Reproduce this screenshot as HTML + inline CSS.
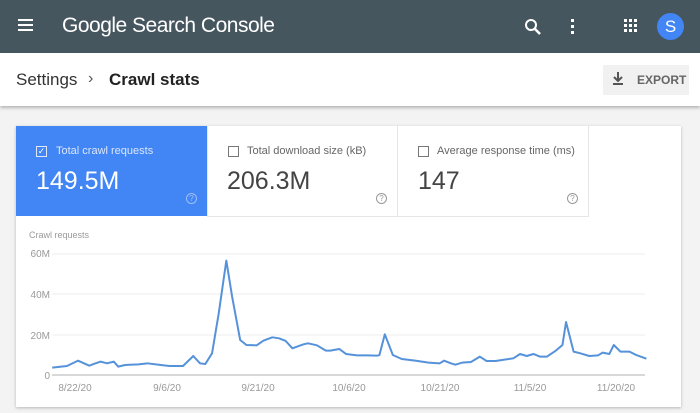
<!DOCTYPE html>
<html><head><style>
body{margin:0;width:700px;height:413px;overflow:hidden;background:#f3f3f3;font-family:"Liberation Sans",sans-serif;position:relative}
.a{position:absolute}
.q{font-size:8px;text-align:center;line-height:9px}
</style></head><body>
<div class="a" style="left:0;top:0;width:700px;height:53px;background:#46565f"></div>
<div class="a" style="left:18px;top:19px;width:15px;height:2px;background:#fff;box-shadow:0 5px 0 #fff,0 10px 0 #fff"></div>
<div class="a" style="left:62px;top:14px;color:#fff;font-size:21px;letter-spacing:-0.5px">Google Search Console</div>
<svg class="a" style="left:524px;top:18px" width="18" height="18"><circle cx="7" cy="7" r="5" stroke="#fff" stroke-width="2" fill="none"/><line x1="11" y1="11" x2="16" y2="16" stroke="#fff" stroke-width="2.5"/></svg>
<div class="a" style="left:571px;top:19px;width:3px;height:3px;background:#fff;box-shadow:0 6px 0 #fff,0 12px 0 #fff"></div>
<svg class="a" style="left:624px;top:19px" width="14" height="14" fill="#fff"><rect x="0" y="0" width="3" height="3"/><rect x="5" y="0" width="3" height="3"/><rect x="10" y="0" width="3" height="3"/><rect x="0" y="5" width="3" height="3"/><rect x="5" y="5" width="3" height="3"/><rect x="10" y="5" width="3" height="3"/><rect x="0" y="10" width="3" height="3"/><rect x="5" y="10" width="3" height="3"/><rect x="10" y="10" width="3" height="3"/></svg>
<div class="a" style="left:657px;top:13px;width:27px;height:27px;border-radius:50%;background:#4285f4;color:#fff;font-size:17px;text-align:center;line-height:27px">S</div>
<div class="a" style="left:0;top:53px;width:700px;height:53px;background:#fff;box-shadow:0 2px 3px rgba(0,0,0,0.25)"></div>
<div class="a" style="left:16px;top:70px;font-size:17px;color:#333">Settings</div>
<div class="a" style="left:88px;top:70px;font-size:16px;color:#555">›</div>
<div class="a" style="left:109px;top:70px;font-size:17px;color:#222;font-weight:bold">Crawl stats</div>
<div class="a" style="left:603px;top:65px;width:86px;height:30px;background:#f1f1f1"></div>
<svg class="a" style="left:612px;top:72px" width="12" height="14"><path d="M6 0v8M2 5l4 4 4-4" stroke="#555" stroke-width="2" fill="none"/><rect x="1" y="11" width="10" height="2" fill="#555"/></svg>
<div class="a" style="left:637px;top:73px;font-size:12px;color:#666;font-weight:bold">EXPORT</div>
<div class="a" style="left:16px;top:126px;width:665px;height:281px;background:#fff;box-shadow:0 1px 3px rgba(0,0,0,0.25)"></div>
<div class="a" style="left:16px;top:126px;width:191px;height:90px;background:#4285f4"></div>
<div class="a" style="left:207px;top:126px;width:1px;height:90px;background:#e6e6e6"></div>
<div class="a" style="left:397px;top:126px;width:1px;height:90px;background:#e6e6e6"></div>
<div class="a" style="left:588px;top:126px;width:1px;height:90px;background:#e6e6e6"></div>
<div class="a" style="left:207px;top:216px;width:382px;height:1px;background:#e6e6e6"></div>
<div class="a" style="left:36px;top:146px;width:9px;height:9px;border:1px solid #dfe8fb;color:#fff;font-size:9px;line-height:9px;text-align:center">✓</div>
<div class="a" style="left:56px;top:145px;font-size:11px;color:#dbe6fc">Total crawl requests</div>
<div class="a" style="left:36px;top:167px;font-size:25px;color:#fff">149.5M</div>
<div class="a q" style="left:186px;top:193px;width:9px;height:9px;border:1px solid #9fc0f8;border-radius:50%;color:#9fc0f8">?</div>
<div class="a" style="left:228px;top:146px;width:9px;height:9px;border:1px solid #777"></div>
<div class="a" style="left:247px;top:145px;font-size:11px;color:#666">Total download size (kB)</div>
<div class="a" style="left:227px;top:167px;font-size:25px;color:#444">206.3M</div>
<div class="a q" style="left:376px;top:193px;width:9px;height:9px;border:1px solid #999;border-radius:50%;color:#999">?</div>
<div class="a" style="left:418px;top:146px;width:9px;height:9px;border:1px solid #777"></div>
<div class="a" style="left:437px;top:145px;font-size:11px;color:#666">Average response time (ms)</div>
<div class="a" style="left:418px;top:167px;font-size:25px;color:#444">147</div>
<div class="a q" style="left:567px;top:193px;width:9px;height:9px;border:1px solid #999;border-radius:50%;color:#999">?</div>
<div class="a" style="left:29px;top:230px;font-size:9px;color:#999">Crawl requests</div>
<svg class="a" style="left:0;top:0" width="700" height="413">
<g stroke="#eee" stroke-width="1"><line x1="52" y1="254" x2="645" y2="254"/><line x1="52" y1="294" x2="645" y2="294"/><line x1="52" y1="335" x2="645" y2="335"/></g>
<line x1="52" y1="375" x2="645" y2="375" stroke="#ccc" stroke-width="1.5"/>
<g font-size="10" fill="#999" font-family="Liberation Sans,sans-serif" text-anchor="end"><text x="50" y="257">60M</text><text x="50" y="298">40M</text><text x="50" y="339">20M</text><text x="50" y="379">0</text></g>
<g font-size="10" fill="#999" font-family="Liberation Sans,sans-serif" text-anchor="middle"><text x="75" y="391">8/22/20</text><text x="167" y="391">9/6/20</text><text x="258" y="391">9/21/20</text><text x="349" y="391">10/6/20</text><text x="440" y="391">10/21/20</text><text x="530" y="391">11/5/20</text><text x="616" y="391">11/20/20</text></g>
<g transform="translate(0,230) scale(0.4464,0.3333)">
<polyline vector-effect="non-scaling-stroke" fill="none" stroke="#5592da" stroke-width="2" stroke-linejoin="round" points="117,413 150,408 175,392 200,407 210,402 225,395 240,400 255,395 265,410 280,405 310,403 330,400 360,405 380,408 410,408 433,378 448,400 460,402 475,370 490,250 507,92 520,200 538,330 552,345 575,346 590,332 610,322 625,325 640,333 655,355 680,343 690,340 710,346 730,362 740,362 760,357 775,372 800,376 820,376 845,377 850,375 862,313 880,375 900,387 930,392 960,398 985,400 995,392 1010,400 1020,404 1035,398 1055,396 1075,380 1090,393 1110,393 1130,389 1150,385 1165,372 1180,378 1195,372 1210,380 1225,380 1245,362 1260,345 1268,276 1285,365 1300,370 1320,378 1340,376 1350,368 1365,372 1375,345 1390,365 1410,365 1425,375 1448,386"/>
</g>
</svg>
</body></html>
